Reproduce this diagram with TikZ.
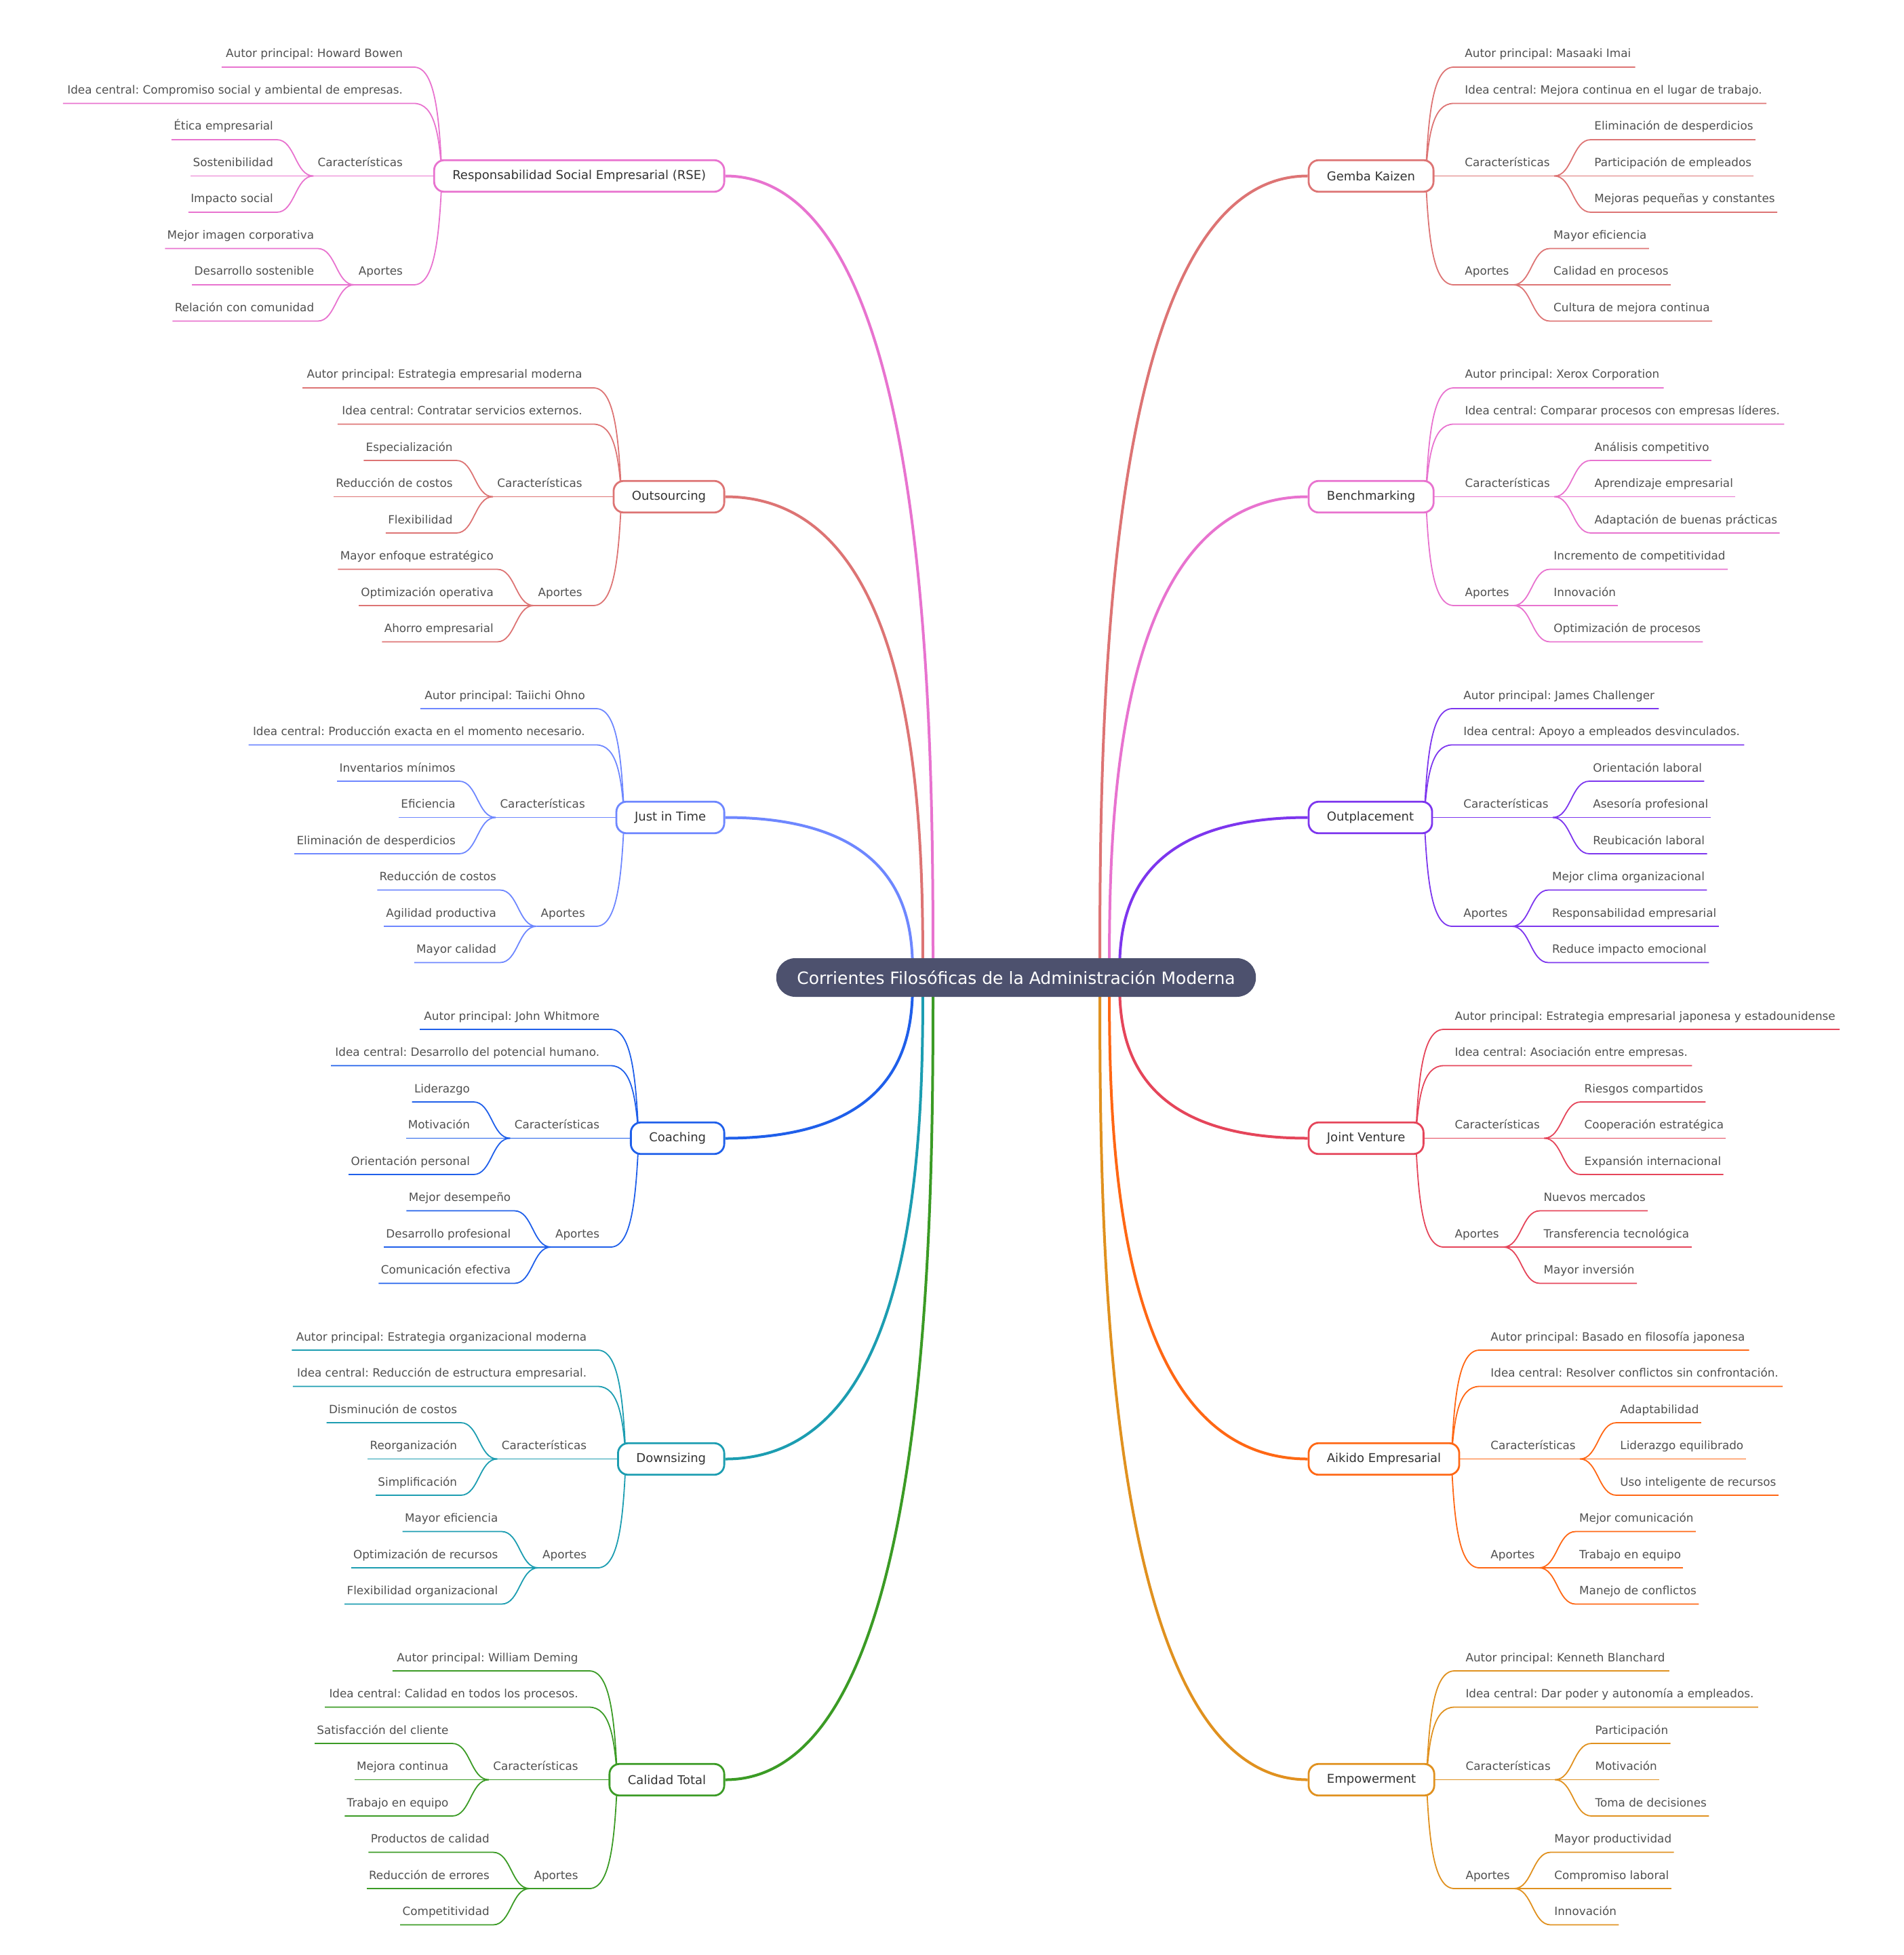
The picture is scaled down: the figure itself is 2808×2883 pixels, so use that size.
\documentclass[tikz,border=0pt]{standalone}
\usepackage{fontspec}
\setmainfont{DejaVu Sans}
\frenchspacing
\usetikzlibrary{calc,backgrounds}

\definecolor{rootfill}{HTML}{4D516E}
\definecolor{inkdark}{HTML}{333333}
\definecolor{inkleaf}{HTML}{505050}
\definecolor{pinkc}{HTML}{E873CF}
\definecolor{salmonc}{HTML}{DD7474}
\definecolor{periwinklec}{HTML}{6E87FF}
\definecolor{bluec}{HTML}{1F5FEA}
\definecolor{tealc}{HTML}{1C9DB1}
\definecolor{greenc}{HTML}{3B9B25}
\definecolor{purplec}{HTML}{7D36EE}
\definecolor{redc}{HTML}{E5455A}
\definecolor{orangec}{HTML}{FF6714}
\definecolor{amberc}{HTML}{E0911F}

\tikzset{
  rootnode/.style={fill=rootfill, text=white, rounded corners=14pt, minimum height=28.5pt, inner xsep=15.25pt, inner ysep=0pt, font=\fontsize{12.5}{15}\selectfont},
  topic/.style={draw, line width=1.4pt, fill=white, rounded corners=7.5pt, minimum height=23.3pt, inner xsep=13.5pt, inner ysep=0pt, text=inkdark, font=\fontsize{9}{11}\selectfont},
  leaf/.style={inner sep=0pt, text=inkleaf, font=\fontsize{8.4}{10}\selectfont},
  trunk/.style={line width=2pt},
  twig/.style={line width=0.9pt}
}

% left half: topic box, its items, their sub-items
\newcommand{\topicL}[5]{%
  \node (#1) [topic, draw=#2, anchor=east] at (1069.5,#3) {#5};
  \begin{scope}[on background layer]
    \draw[trunk, #2] (#1.east) .. controls (#4,#3) and (#4,{0.3*#3+0.7*1441.5}) .. (#4,1441.5);
  \end{scope}}
\newcommand{\itemL}[5]{%
  \coordinate (#3-end) at ($(#1.west)+(-28.5,{53.5*(#4)})$);
  \node (#3) [leaf, anchor=base east] at ($(#3-end)+(-16,-14)$) {#5};
  \coordinate (#3-out) at ($(#3.base west)+(-6,14)$);
  \begin{scope}[on background layer]
    \ifnum#4=0
      \draw[twig, #2] (#3-out) -- ($(#1.west)+(13,0)$);
    \else
      \draw[twig, #2] (#3-out) -- (#3-end)
        .. controls ($(#1.west)+(3,{53.5*(#4)})$) and ($(#1.west)+(9,{29.4*(#4)})$) .. ($(#1.west)+(13,0)$);
    \fi
  \end{scope}}
\newcommand{\subL}[5]{%
  \coordinate (#3-end) at ($(#1-out)+(-54,{53.5*(#4)})$);
  \node (#3) [leaf, anchor=base east] at ($(#3-end)+(-5,-14)$) {#5};
  \begin{scope}[on background layer]
    \draw[twig, #2] ($(#3.base west)+(-3,14)$) -- (#3-end)
      .. controls ($(#3-end)+(27,0)$) and ($(#1-out)+(-27,0)$) .. (#1-out);
  \end{scope}}

% right half
\newcommand{\topicR}[5]{%
  \node (#1) [topic, draw=#2, anchor=west] at (1928.5,#3) {#5};
  \begin{scope}[on background layer]
    \draw[trunk, #2] (#1.west) .. controls (#4,#3) and (#4,{0.3*#3+0.7*1441.5}) .. (#4,1441.5);
  \end{scope}}
\newcommand{\itemR}[5]{%
  \coordinate (#3-end) at ($(#1.east)+(28.5,{53.5*(#4)})$);
  \node (#3) [leaf, anchor=base west] at ($(#3-end)+(16,-14)$) {#5};
  \coordinate (#3-out) at ($(#3.base east)+(6,14)$);
  \begin{scope}[on background layer]
    \ifnum#4=0
      \draw[twig, #2] (#3-out) -- ($(#1.east)+(-13,0)$);
    \else
      \draw[twig, #2] (#3-out) -- (#3-end)
        .. controls ($(#1.east)+(-3,{53.5*(#4)})$) and ($(#1.east)+(-9,{29.4*(#4)})$) .. ($(#1.east)+(-13,0)$);
    \fi
  \end{scope}}
\newcommand{\subR}[5]{%
  \coordinate (#3-end) at ($(#1-out)+(54,{53.5*(#4)})$);
  \node (#3) [leaf, anchor=base west] at ($(#3-end)+(5,-14)$) {#5};
  \begin{scope}[on background layer]
    \draw[twig, #2] ($(#3.base east)+(3,14)$) -- (#3-end)
      .. controls ($(#3-end)+(-27,0)$) and ($(#1-out)+(27,0)$) .. (#1-out);
  \end{scope}}

\begin{document}
\begin{tikzpicture}[x=0.5pt, y=-0.5pt]
  \useasboundingbox (0,0) rectangle (2808,2883);
  \node (root) [rootnode] at (1498.5,1441.5) {Corrientes Filosóficas de la Administración Moderna};

  % Left side
  \topicL{rse}{pinkc}{259.5}{1376}{Responsabilidad Social Empresarial (RSE)}
  \itemL{rse}{pinkc}{rse-autor}{-3}{Autor principal: Howard Bowen}
  \itemL{rse}{pinkc}{rse-idea}{-2}{Idea central: Compromiso social y ambiental de empresas.}
  \itemL{rse}{pinkc}{rse-car}{0}{Características}
  \subL{rse-car}{pinkc}{rse-car-1}{-1}{Ética empresarial}
  \subL{rse-car}{pinkc}{rse-car-2}{0}{Sostenibilidad}
  \subL{rse-car}{pinkc}{rse-car-3}{1}{Impacto social}
  \itemL{rse}{pinkc}{rse-apo}{3}{Aportes}
  \subL{rse-apo}{pinkc}{rse-apo-1}{-1}{Mejor imagen corporativa}
  \subL{rse-apo}{pinkc}{rse-apo-2}{0}{Desarrollo sostenible}
  \subL{rse-apo}{pinkc}{rse-apo-3}{1}{Relación con comunidad}

  \topicL{outs}{salmonc}{732.5}{1361}{Outsourcing}
  \itemL{outs}{salmonc}{outs-autor}{-3}{Autor principal: Estrategia empresarial moderna}
  \itemL{outs}{salmonc}{outs-idea}{-2}{Idea central: Contratar servicios externos.}
  \itemL{outs}{salmonc}{outs-car}{0}{Características}
  \subL{outs-car}{salmonc}{outs-car-1}{-1}{Especialización}
  \subL{outs-car}{salmonc}{outs-car-2}{0}{Reducción de costos}
  \subL{outs-car}{salmonc}{outs-car-3}{1}{Flexibilidad}
  \itemL{outs}{salmonc}{outs-apo}{3}{Aportes}
  \subL{outs-apo}{salmonc}{outs-apo-1}{-1}{Mayor enfoque estratégico}
  \subL{outs-apo}{salmonc}{outs-apo-2}{0}{Optimización operativa}
  \subL{outs-apo}{salmonc}{outs-apo-3}{1}{Ahorro empresarial}

  \topicL{jit}{periwinklec}{1205.5}{1346}{Just in Time}
  \itemL{jit}{periwinklec}{jit-autor}{-3}{Autor principal: Taiichi Ohno}
  \itemL{jit}{periwinklec}{jit-idea}{-2}{Idea central: Producción exacta en el momento necesario.}
  \itemL{jit}{periwinklec}{jit-car}{0}{Características}
  \subL{jit-car}{periwinklec}{jit-car-1}{-1}{Inventarios mínimos}
  \subL{jit-car}{periwinklec}{jit-car-2}{0}{Eficiencia}
  \subL{jit-car}{periwinklec}{jit-car-3}{1}{Eliminación de desperdicios}
  \itemL{jit}{periwinklec}{jit-apo}{3}{Aportes}
  \subL{jit-apo}{periwinklec}{jit-apo-1}{-1}{Reducción de costos}
  \subL{jit-apo}{periwinklec}{jit-apo-2}{0}{Agilidad productiva}
  \subL{jit-apo}{periwinklec}{jit-apo-3}{1}{Mayor calidad}

  \topicL{coach}{bluec}{1678.5}{1346}{Coaching}
  \itemL{coach}{bluec}{coach-autor}{-3}{Autor principal: John Whitmore}
  \itemL{coach}{bluec}{coach-idea}{-2}{Idea central: Desarrollo del potencial humano.}
  \itemL{coach}{bluec}{coach-car}{0}{Características}
  \subL{coach-car}{bluec}{coach-car-1}{-1}{Liderazgo}
  \subL{coach-car}{bluec}{coach-car-2}{0}{Motivación}
  \subL{coach-car}{bluec}{coach-car-3}{1}{Orientación personal}
  \itemL{coach}{bluec}{coach-apo}{3}{Aportes}
  \subL{coach-apo}{bluec}{coach-apo-1}{-1}{Mejor desempeño}
  \subL{coach-apo}{bluec}{coach-apo-2}{0}{Desarrollo profesional}
  \subL{coach-apo}{bluec}{coach-apo-3}{1}{Comunicación efectiva}

  \topicL{down}{tealc}{2151.5}{1361}{Downsizing}
  \itemL{down}{tealc}{down-autor}{-3}{Autor principal: Estrategia organizacional moderna}
  \itemL{down}{tealc}{down-idea}{-2}{Idea central: Reducción de estructura empresarial.}
  \itemL{down}{tealc}{down-car}{0}{Características}
  \subL{down-car}{tealc}{down-car-1}{-1}{Disminución de costos}
  \subL{down-car}{tealc}{down-car-2}{0}{Reorganización}
  \subL{down-car}{tealc}{down-car-3}{1}{Simplificación}
  \itemL{down}{tealc}{down-apo}{3}{Aportes}
  \subL{down-apo}{tealc}{down-apo-1}{-1}{Mayor eficiencia}
  \subL{down-apo}{tealc}{down-apo-2}{0}{Optimización de recursos}
  \subL{down-apo}{tealc}{down-apo-3}{1}{Flexibilidad organizacional}

  \topicL{tqm}{greenc}{2624.5}{1376}{Calidad Total}
  \itemL{tqm}{greenc}{tqm-autor}{-3}{Autor principal: William Deming}
  \itemL{tqm}{greenc}{tqm-idea}{-2}{Idea central: Calidad en todos los procesos.}
  \itemL{tqm}{greenc}{tqm-car}{0}{Características}
  \subL{tqm-car}{greenc}{tqm-car-1}{-1}{Satisfacción del cliente}
  \subL{tqm-car}{greenc}{tqm-car-2}{0}{Mejora continua}
  \subL{tqm-car}{greenc}{tqm-car-3}{1}{Trabajo en equipo}
  \itemL{tqm}{greenc}{tqm-apo}{3}{Aportes}
  \subL{tqm-apo}{greenc}{tqm-apo-1}{-1}{Productos de calidad}
  \subL{tqm-apo}{greenc}{tqm-apo-2}{0}{Reducción de errores}
  \subL{tqm-apo}{greenc}{tqm-apo-3}{1}{Competitividad}

  % Right side
  \topicR{gemba}{salmonc}{259.5}{1622}{Gemba Kaizen}
  \itemR{gemba}{salmonc}{gemba-autor}{-3}{Autor principal: Masaaki Imai}
  \itemR{gemba}{salmonc}{gemba-idea}{-2}{Idea central: Mejora continua en el lugar de trabajo.}
  \itemR{gemba}{salmonc}{gemba-car}{0}{Características}
  \subR{gemba-car}{salmonc}{gemba-car-1}{-1}{Eliminación de desperdicios}
  \subR{gemba-car}{salmonc}{gemba-car-2}{0}{Participación de empleados}
  \subR{gemba-car}{salmonc}{gemba-car-3}{1}{Mejoras pequeñas y constantes}
  \itemR{gemba}{salmonc}{gemba-apo}{3}{Aportes}
  \subR{gemba-apo}{salmonc}{gemba-apo-1}{-1}{Mayor eficiencia}
  \subR{gemba-apo}{salmonc}{gemba-apo-2}{0}{Calidad en procesos}
  \subR{gemba-apo}{salmonc}{gemba-apo-3}{1}{Cultura de mejora continua}

  \topicR{bench}{pinkc}{732.5}{1636}{Benchmarking}
  \itemR{bench}{pinkc}{bench-autor}{-3}{Autor principal: Xerox Corporation}
  \itemR{bench}{pinkc}{bench-idea}{-2}{Idea central: Comparar procesos con empresas líderes.}
  \itemR{bench}{pinkc}{bench-car}{0}{Características}
  \subR{bench-car}{pinkc}{bench-car-1}{-1}{Análisis competitivo}
  \subR{bench-car}{pinkc}{bench-car-2}{0}{Aprendizaje empresarial}
  \subR{bench-car}{pinkc}{bench-car-3}{1}{Adaptación de buenas prácticas}
  \itemR{bench}{pinkc}{bench-apo}{3}{Aportes}
  \subR{bench-apo}{pinkc}{bench-apo-1}{-1}{Incremento de competitividad}
  \subR{bench-apo}{pinkc}{bench-apo-2}{0}{Innovación}
  \subR{bench-apo}{pinkc}{bench-apo-3}{1}{Optimización de procesos}

  \topicR{outp}{purplec}{1205.5}{1651}{Outplacement}
  \itemR{outp}{purplec}{outp-autor}{-3}{Autor principal: James Challenger}
  \itemR{outp}{purplec}{outp-idea}{-2}{Idea central: Apoyo a empleados desvinculados.}
  \itemR{outp}{purplec}{outp-car}{0}{Características}
  \subR{outp-car}{purplec}{outp-car-1}{-1}{Orientación laboral}
  \subR{outp-car}{purplec}{outp-car-2}{0}{Asesoría profesional}
  \subR{outp-car}{purplec}{outp-car-3}{1}{Reubicación laboral}
  \itemR{outp}{purplec}{outp-apo}{3}{Aportes}
  \subR{outp-apo}{purplec}{outp-apo-1}{-1}{Mejor clima organizacional}
  \subR{outp-apo}{purplec}{outp-apo-2}{0}{Responsabilidad empresarial}
  \subR{outp-apo}{purplec}{outp-apo-3}{1}{Reduce impacto emocional}

  \topicR{jv}{redc}{1678.5}{1651}{Joint Venture}
  \itemR{jv}{redc}{jv-autor}{-3}{Autor principal: Estrategia empresarial japonesa y estadounidense}
  \itemR{jv}{redc}{jv-idea}{-2}{Idea central: Asociación entre empresas.}
  \itemR{jv}{redc}{jv-car}{0}{Características}
  \subR{jv-car}{redc}{jv-car-1}{-1}{Riesgos compartidos}
  \subR{jv-car}{redc}{jv-car-2}{0}{Cooperación estratégica}
  \subR{jv-car}{redc}{jv-car-3}{1}{Expansión internacional}
  \itemR{jv}{redc}{jv-apo}{3}{Aportes}
  \subR{jv-apo}{redc}{jv-apo-1}{-1}{Nuevos mercados}
  \subR{jv-apo}{redc}{jv-apo-2}{0}{Transferencia tecnológica}
  \subR{jv-apo}{redc}{jv-apo-3}{1}{Mayor inversión}

  \topicR{aiki}{orangec}{2151.5}{1636}{Aikido Empresarial}
  \itemR{aiki}{orangec}{aiki-autor}{-3}{Autor principal: Basado en filosofía japonesa}
  \itemR{aiki}{orangec}{aiki-idea}{-2}{Idea central: Resolver conflictos sin confrontación.}
  \itemR{aiki}{orangec}{aiki-car}{0}{Características}
  \subR{aiki-car}{orangec}{aiki-car-1}{-1}{Adaptabilidad}
  \subR{aiki-car}{orangec}{aiki-car-2}{0}{Liderazgo equilibrado}
  \subR{aiki-car}{orangec}{aiki-car-3}{1}{Uso inteligente de recursos}
  \itemR{aiki}{orangec}{aiki-apo}{3}{Aportes}
  \subR{aiki-apo}{orangec}{aiki-apo-1}{-1}{Mejor comunicación}
  \subR{aiki-apo}{orangec}{aiki-apo-2}{0}{Trabajo en equipo}
  \subR{aiki-apo}{orangec}{aiki-apo-3}{1}{Manejo de conflictos}

  \topicR{empow}{amberc}{2624.5}{1622}{Empowerment}
  \itemR{empow}{amberc}{empow-autor}{-3}{Autor principal: Kenneth Blanchard}
  \itemR{empow}{amberc}{empow-idea}{-2}{Idea central: Dar poder y autonomía a empleados.}
  \itemR{empow}{amberc}{empow-car}{0}{Características}
  \subR{empow-car}{amberc}{empow-car-1}{-1}{Participación}
  \subR{empow-car}{amberc}{empow-car-2}{0}{Motivación}
  \subR{empow-car}{amberc}{empow-car-3}{1}{Toma de decisiones}
  \itemR{empow}{amberc}{empow-apo}{3}{Aportes}
  \subR{empow-apo}{amberc}{empow-apo-1}{-1}{Mayor productividad}
  \subR{empow-apo}{amberc}{empow-apo-2}{0}{Compromiso laboral}
  \subR{empow-apo}{amberc}{empow-apo-3}{1}{Innovación}
\end{tikzpicture}
\end{document}
